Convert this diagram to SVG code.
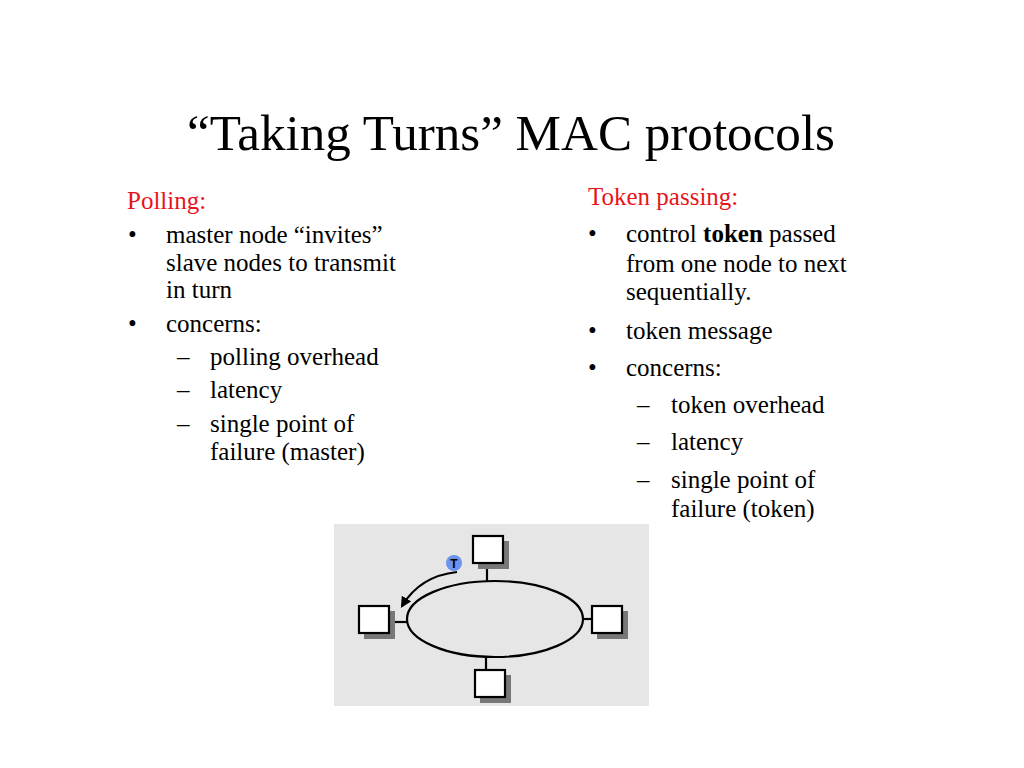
<svg xmlns="http://www.w3.org/2000/svg" width="1024" height="768" viewBox="0 0 1024 768">
<style>
text{font-family:"Liberation Serif","Times New Roman",serif;fill:#000}
.t{font-size:25px}
.h{font-size:25px;fill:#e8141b}
.box{fill:#fff;stroke:#000;stroke-width:2.2}
.sh{fill:#777}
.ln{stroke:#000;stroke-width:2.2;fill:none}
</style>
<defs>
<marker id="ah" viewBox="0 0 10 10" refX="8" refY="5" markerWidth="5" markerHeight="5" orient="auto">
<path d="M0,0 L10,5 L0,10 z" fill="#000"/>
</marker>
</defs>
<rect width="1024" height="768" fill="#fff"/>
<text x="511" y="150" font-size="51" text-anchor="middle" textLength="648" lengthAdjust="spacingAndGlyphs">“Taking Turns” MAC protocols</text>

<g id="polling">
<text class="h" x="127" y="209">Polling:</text>
<text class="t" x="128" y="243">•</text>
<text class="t" x="166" y="243">master node “invites”</text>
<text class="t" x="166" y="271">slave nodes to transmit</text>
<text class="t" x="166" y="298">in turn</text>
<text class="t" x="128" y="332">•</text>
<text class="t" x="166" y="332">concerns:</text>
<text class="t" x="177" y="365">–</text>
<text class="t" x="210" y="365">polling overhead</text>
<text class="t" x="177" y="398">–</text>
<text class="t" x="210" y="398">latency</text>
<text class="t" x="177" y="432">–</text>
<text class="t" x="210" y="432">single point of</text>
<text class="t" x="210" y="460">failure (master)</text>
</g>

<g id="token-passing">
<text class="h" x="588" y="205">Token passing:</text>
<text class="t" x="588" y="242">•</text>
<text class="t" x="626" y="242">control <tspan font-weight="bold">token</tspan> passed</text>
<text class="t" x="626" y="272">from one node to next</text>
<text class="t" x="626" y="300">sequentially.</text>
<text class="t" x="588" y="339">•</text>
<text class="t" x="626" y="339">token message</text>
<text class="t" x="588" y="376">•</text>
<text class="t" x="626" y="376">concerns:</text>
<text class="t" x="637" y="413">–</text>
<text class="t" x="671" y="413">token overhead</text>
<text class="t" x="637" y="450">–</text>
<text class="t" x="671" y="450">latency</text>
<text class="t" x="637" y="488">–</text>
<text class="t" x="671" y="488">single point of</text>
<text class="t" x="671" y="517">failure (token)</text>
</g>

<g id="ring-diagram">
<rect x="334" y="524" width="315" height="182" fill="#e6e6e6"/>
<g id="connectors">
<line class="ln" x1="487" y1="564" x2="487" y2="582"/>
<line class="ln" x1="389" y1="622" x2="408" y2="622"/>
<line class="ln" x1="582" y1="619" x2="592" y2="619"/>
<line class="ln" x1="486" y1="656" x2="486" y2="670"/>
<path class="ln" d="M457,572 Q420,576 402,606" marker-end="url(#ah)"/>
</g>
<ellipse id="ring" cx="495" cy="619" rx="88" ry="38" fill="#e6e6e6" stroke="#000" stroke-width="2.2"/>
<g id="node-top"><rect class="sh" x="478" y="541" width="31" height="28"/><rect class="box" x="473" y="536" width="30" height="27"/></g>
<g id="node-left"><rect class="sh" x="364" y="611" width="31" height="28"/><rect class="box" x="359" y="606" width="30" height="27"/></g>
<g id="node-right"><rect class="sh" x="597" y="611" width="31" height="28"/><rect class="box" x="592" y="606" width="30" height="27"/></g>
<g id="node-bottom"><rect class="sh" x="480" y="675" width="31" height="28"/><rect class="box" x="475" y="670" width="30" height="27"/></g>
<g id="token">
<circle cx="454" cy="563" r="8" fill="#6b93f0"/>
<text x="454" y="567.5" font-size="12" font-weight="bold" text-anchor="middle" style="font-family:'Liberation Sans',Arial,sans-serif">T</text>
</g>
</g>
</svg>
